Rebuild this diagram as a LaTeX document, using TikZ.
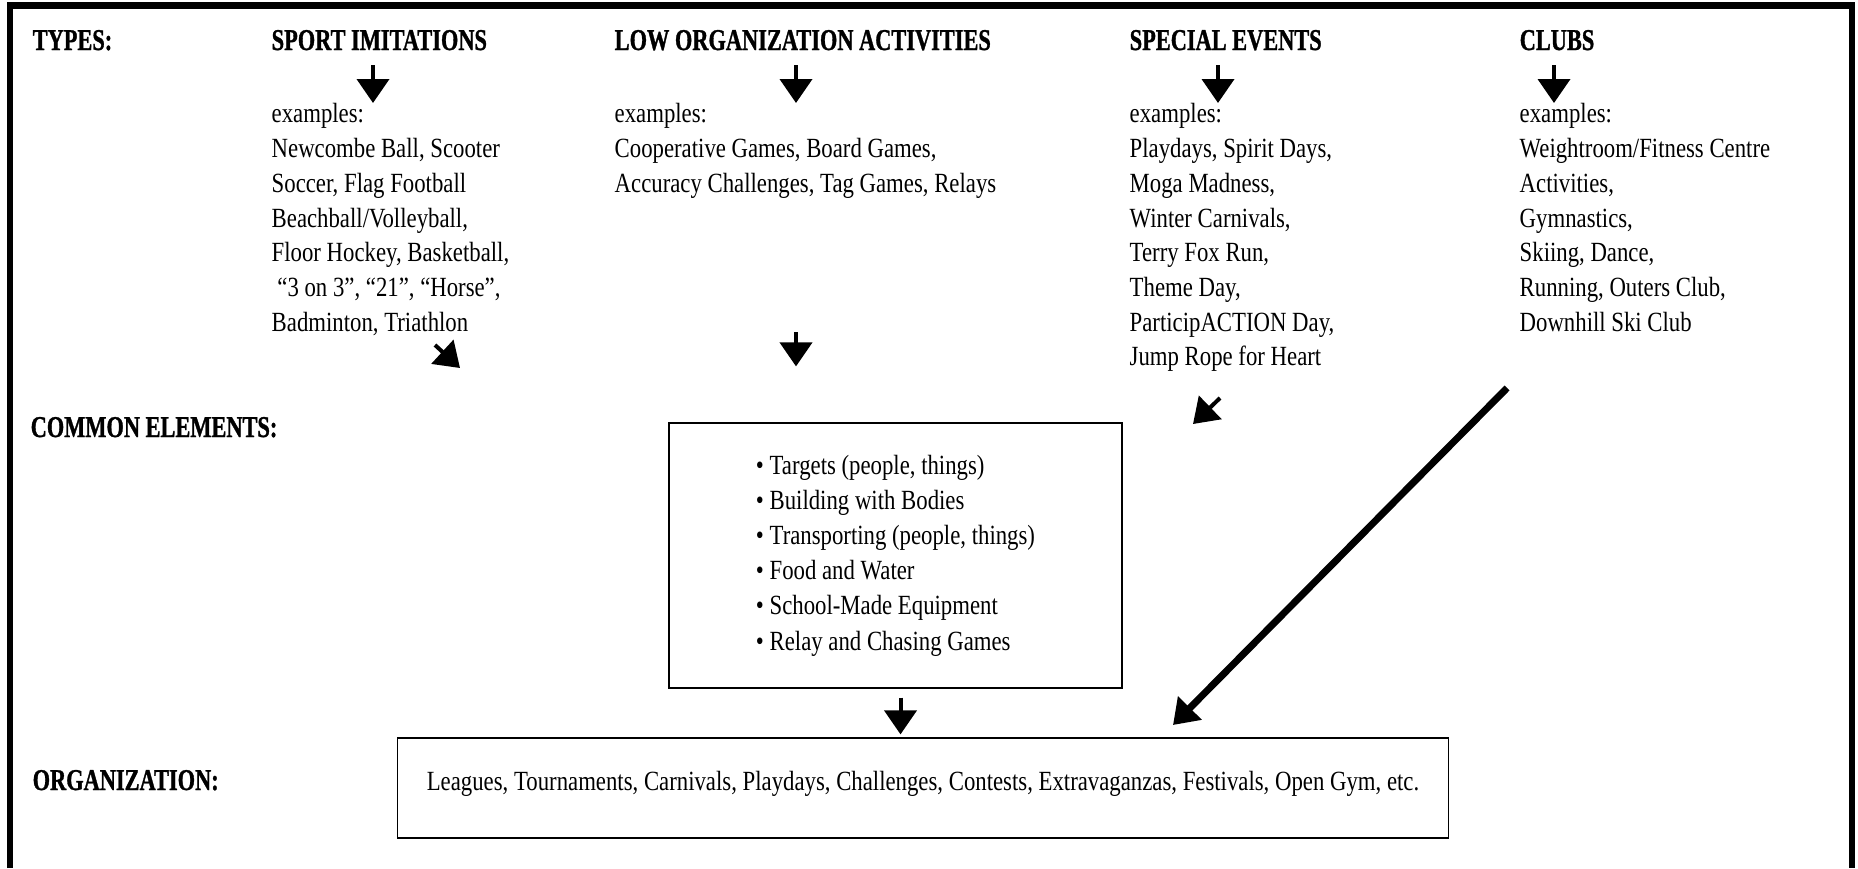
\documentclass[tikz,border=0pt]{standalone}
\usepackage{fontspec}
\setmainfont{Liberation Serif}[FakeStretch=0.82]
\newfontfamily\hdrfont{Liberation Serif}[FakeStretch=0.74, FakeBold=1]
\usetikzlibrary{arrows.meta}

\tikzset{
    hdr/.style={font=\hdrfont\bfseries\fontsize{8.6}{10}\selectfont, anchor=base west, inner sep=0pt},
    exlist/.style={font=\fontsize{7.9}{9.87}\selectfont, anchor=north west, inner sep=0pt, align=left},
    framebox/.style={draw, line width=0.35pt, font=\fontsize{7.9}{10}\selectfont, align=left},
    down/.style={-{Triangle[length=2.4mm,width=3.2mm]}, line width=0.4mm},
}

\begin{document}
\begin{tikzpicture}[x=0.1mm,y=-0.1mm]
    \useasboundingbox (0,0) rectangle (1858,868);
    \draw[line width=0.65mm] (10,868) -- (10,5.5) -- (1852,5.5) -- (1852,868);

    % left labels
    \node[hdr] (types) at (32,50) {TYPES:};
    \node[hdr] (commonlbl) at (30,437) {COMMON ELEMENTS:};
    \node[hdr] (orglbl) at (32,790) {ORGANIZATION:};

    % types
    \node[hdr] (sport) at (271,50) {SPORT IMITATIONS};
    \node[hdr] (loworg) at (614,50) {LOW ORGANIZATION ACTIVITIES};
    \node[hdr] (special) at (1129,50) {SPECIAL EVENTS};
    \node[hdr] (clubs) at (1519,50) {CLUBS};

    \node[exlist] (sportex) at ([yshift=-5.3mm]sport.base west) {examples:\\Newcombe Ball, Scooter\\Soccer, Flag Football\\Beachball/Volleyball,\\Floor Hockey, Basketball,\\\ “3 on 3”, “21”, “Horse”,\\Badminton, Triathlon};
    \node[exlist] (loworgex) at ([yshift=-5.3mm]loworg.base west) {examples:\\Cooperative Games, Board Games,\\Accuracy Challenges, Tag Games, Relays};
    \node[exlist] (specialex) at ([yshift=-5.3mm]special.base west) {examples:\\Playdays, Spirit Days,\\Moga Madness,\\Winter Carnivals,\\Terry Fox Run,\\Theme Day,\\ParticipACTION Day,\\Jump Rope for Heart};
    \node[exlist] (clubsex) at ([yshift=-5.3mm]clubs.base west) {examples:\\Weightroom/Fitness Centre\\Activities,\\Gymnastics,\\Skiing, Dance,\\Running, Outers Club,\\Downhill Ski Club};

    % boxes
    \node[framebox, minimum width=45.3mm, minimum height=26.5mm] (common) at (895.5,555.5) {• Targets (people, things)\\• Building with Bodies\\• Transporting (people, things)\\• Food and Water\\• School-Made Equipment\\• Relay and Chasing Games};
    \node[framebox, minimum width=105.1mm, minimum height=10mm, text height=2.5mm, text depth=2.1mm] (org) at (923,788) {Leagues, Tournaments, Carnivals, Playdays, Challenges, Contests, Extravaganzas, Festivals, Open Gym, etc.};

    % arrows
    \foreach \col/\dx in {sport/102,loworg/182,special/89,clubs/35}{
        \draw[down] ([shift={(\dx,15)}]\col.base west) -- ([shift={(\dx,0)}]\col.base west |- \col ex.north);
    }
    \draw[down, shorten <=13.3mm, shorten >=5.6mm] ([shift={(182,0)}]loworg.base west |- loworgex.south) -- ([shift={(182,0)}]loworg.base west |- common.north);

    \coordinate (sportfrom) at (435,345);
    \coordinate (sporttip) at (460,368);
    \coordinate (specialfrom) at (1220,398);
    \coordinate (specialtip) at (1193,424);
    \coordinate (clubsfrom) at (1507,388);
    \coordinate (clubstip) at (1173,725);
    \draw[down] (sportfrom) -- (sporttip);
    \draw[down] (specialfrom) -- (specialtip);
    \draw[down, line width=0.7mm] (clubsfrom) -- (clubstip);

    \draw[down, shorten <=0.9mm, shorten >=0.3mm] ([xshift=0.5mm]common.south) -- ([xshift=0.5mm]common.south |- org.north);
\end{tikzpicture}
\end{document}
